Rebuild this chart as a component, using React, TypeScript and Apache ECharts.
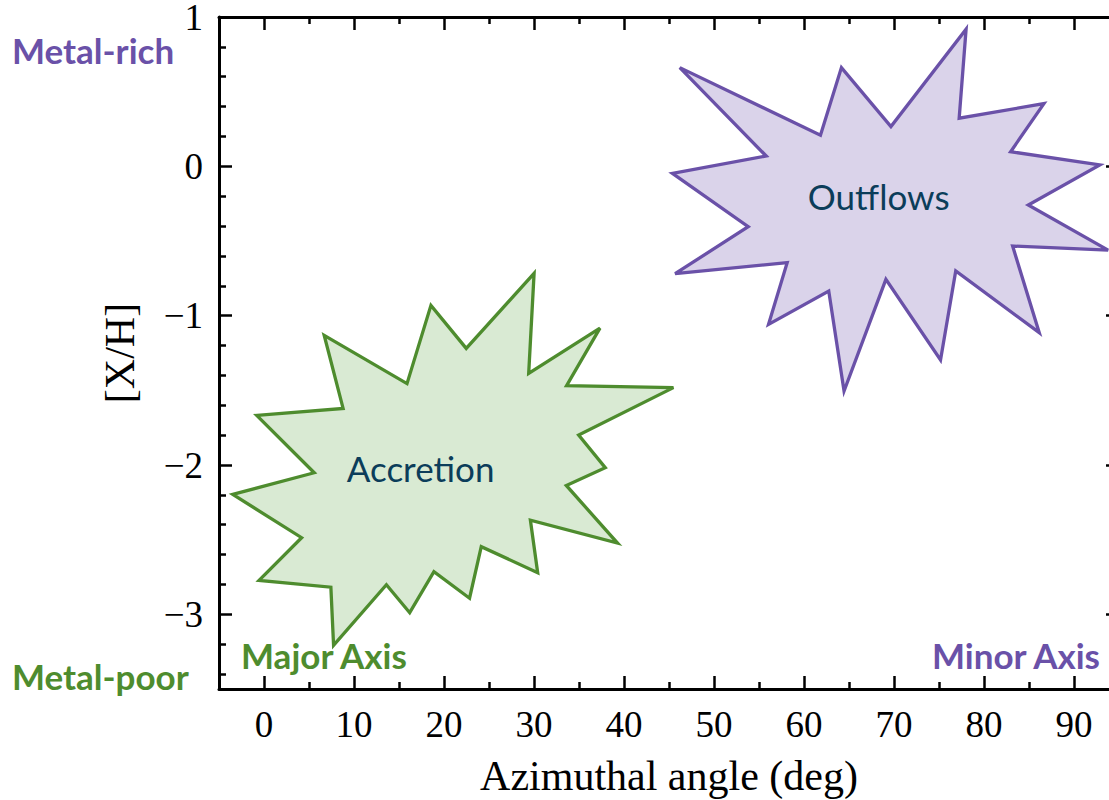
import React, { useEffect, useRef } from "react";
import * as echarts from "echarts";

// ---- data ----
const xMajorTicks = [0, 10, 20, 30, 40, 50, 60, 70, 80, 90];
const xMinorTicks = [5, 15, 25, 35, 45, 55, 65, 75, 85];
const yMajorTicks = [-3, -2, -1, 0, 1];
const yMinorTicks = [-3.4, -3.2, -2.8, -2.6, -2.4, -2.2, -1.8, -1.6, -1.4, -1.2, -0.8, -0.6, -0.4, -0.2, 0.2, 0.4, 0.6, 0.8];

const accretionX = [-3.47, 5.58, -0.81, 8.79, 6.69, 15.89, 18.55, 22.47, 30.01, 29.41, 37.33, 33.62, 45.49, 34.96, 37.92, 33.59, 39.28, 29.6, 30.41, 24.14, 22.84, 18.88, 16.19, 13.6, 7.73, 7.43, -0.55, 4.18];
const accretionY = [-2.197, -2.052, -1.668, -1.621, -1.132, -1.455, -0.931, -1.219, -0.717, -1.386, -1.083, -1.469, -1.482, -1.8, -2.018, -2.137, -2.523, -2.369, -2.721, -2.547, -2.892, -2.715, -2.989, -2.802, -3.208, -2.818, -2.773, -2.487];
const accretionLabel = ["Accretion", 17.4, -2.02];

const outflowX = [46.2, 61.83, 64.16, 69.66, 78.01, 77.24, 86.66, 82.96, 92.87, 84.92, 93.79, 83.18, 86.14, 76.86, 75.17, 69.1, 64.45, 62.75, 56.06, 58.13, 45.68, 53.8, 45.38, 55.8];
const outflowY = [0.661, 0.208, 0.661, 0.266, 0.918, 0.322, 0.42, 0.098, 0.009, -0.259, -0.561, -0.534, -1.114, -0.701, -1.297, -0.757, -1.505, -0.835, -1.058, -0.645, -0.719, -0.404, -0.047, 0.069];
const outflowLabel = ["Outflows", 68.3, -0.2];

const X_MIN = -5, X_MAX = 95, Y_MIN = -3.5, Y_MAX = 1;

const GREEN = "#4e8c2e";
const GREEN_FILL = "#d9ead3";
const PURPLE = "#6a51a8";
const PURPLE_FILL = "#dad3ea";
const TEXT_DARK = "#0b3d5a";
const SERIF = "'Liberation Serif', 'DejaVu Serif', serif";
const SANS = "Lato, 'Noto Sans', sans-serif";

function fmtY(v: number) {
  return v < 0 ? "\u2212" + Math.abs(v) : String(v);
}

export default function App() {
  const ref = useRef<HTMLDivElement>(null);
  useEffect(() => {
    if (!ref.current) return;
    const chart = echarts.init(ref.current, null, { renderer: "svg" });

    const tickStyle = { color: "#000", width: 2.5 };
    const mkX = (position: string, major: boolean, main: boolean) => ({
      type: "value",
      position,
      min: X_MIN,
      max: X_MAX,
      splitLine: { show: false },
      axisLine: { show: main, onZero: false, lineStyle: { color: "#000", width: 3 } },
      axisTick: {
        show: true,
        inside: true,
        length: major ? 13 : 7,
        customValues: major ? xMajorTicks : xMinorTicks,
        lineStyle: tickStyle,
      },
      axisLabel: main && position === "bottom"
        ? { show: true, customValues: xMajorTicks, margin: 17, color: "#000", fontFamily: SERIF, fontSize: 37 }
        : { show: false },
      name: main && position === "bottom" ? "Azimuthal angle (deg)" : "",
      nameLocation: "middle",
      nameGap: 66,
      nameTextStyle: { color: "#000", fontFamily: SERIF, fontSize: 42 },
    });
    const mkY = (position: string, major: boolean, main: boolean) => ({
      type: "value",
      position,
      min: Y_MIN,
      max: Y_MAX,
      splitLine: { show: false },
      axisLine: { show: main, onZero: false, lineStyle: { color: "#000", width: 3 } },
      axisTick: {
        show: true,
        inside: true,
        length: major ? 13 : 7,
        customValues: major ? yMajorTicks : yMinorTicks,
        lineStyle: tickStyle,
      },
      axisLabel: main && position === "left"
        ? { show: true, customValues: yMajorTicks, margin: 16, color: "#000", fontFamily: SERIF, fontSize: 37, formatter: (v: number) => fmtY(v) }
        : { show: false },
      name: main && position === "left" ? "[X/H]" : "",
      nameLocation: "middle",
      nameRotate: 90,
      nameGap: 78,
      nameTextStyle: { color: "#000", fontFamily: SERIF, fontSize: 42 },
    });

    const polySeries = (xs: number[], ys: number[], label: any[], stroke: string, fill: string) => ({
      type: "custom",
      xAxisIndex: 0,
      yAxisIndex: 0,
      clip: false,
      data: [[label[1], label[2]]],
      renderItem: (params: any, api: any) => {
        const pts = xs.map((x, i) => api.coord([x, ys[i]]));
        const c = api.coord([label[1], label[2]]);
        return {
          type: "group",
          children: [
            {
              type: "polygon",
              shape: { points: pts },
              style: { fill, stroke, lineWidth: 3.3, lineJoin: "miter" },
            },
            {
              type: "text",
              x: c[0],
              y: c[1],
              style: {
                text: label[0],
                fill: TEXT_DARK,
                font: `35px ${SANS}`,
                align: "center",
                verticalAlign: "middle",
              },
            },
          ],
        };
      },
    });

    const annot = (text: string, x: number, y: number, color: string, align = "left") => ({
      type: "text",
      x,
      y,
      style: { text, fill: color, font: `bold 35px ${SANS}`, align, verticalAlign: "middle" },
    });

    chart.setOption({
      animation: false,
      backgroundColor: "#fff",
      grid: { left: 219, top: 17, width: 900, height: 672, containLabel: false, outerBoundsMode: "none" },
      xAxis: [mkX("bottom", true, true), mkX("bottom", false, false), mkX("top", true, true), mkX("top", false, false)],
      yAxis: [mkY("left", true, true), mkY("left", false, false), mkY("right", true, true), mkY("right", false, false)],
      series: [
        polySeries(accretionX, accretionY, accretionLabel, GREEN, GREEN_FILL),
        polySeries(outflowX, outflowY, outflowLabel, PURPLE, PURPLE_FILL),
      ],
      graphic: [
        annot("Metal-rich", 12, 50, PURPLE),
        annot("Metal-poor", 12, 676, GREEN),
        annot("Major Axis", 241, 655, GREEN),
        annot("Minor Axis", 1100, 655, PURPLE, "right"),
      ],
    });
    return () => chart.dispose();
  }, []);
  return <div ref={ref} style={{ position: "fixed", left: 0, top: 0, width: 1109, height: 800 }} />;
}
